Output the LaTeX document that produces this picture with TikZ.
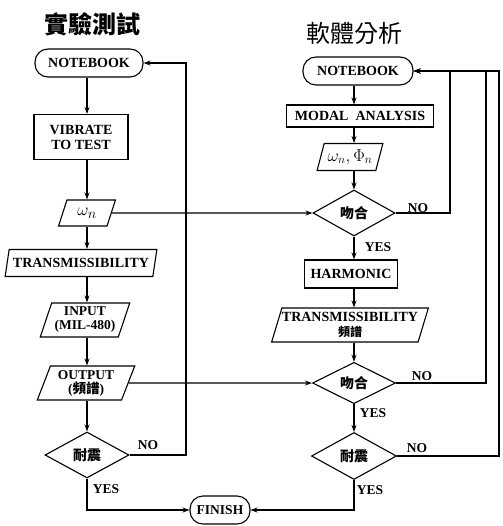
\documentclass[tikz,border=0pt]{standalone}
\usepackage{fontspec}
\setmainfont{Liberation Serif}
\newfontfamily\cjk{Noto Sans CJK TC}
\usetikzlibrary{shapes.geometric,arrows.meta}
\begin{document}
\begin{tikzpicture}[x=1pt,y=-1pt,
  line width=1.1pt,
  every node/.style={font=\bfseries\fontsize{14}{15}\selectfont, inner sep=1pt},
  arr/.style={-{Stealth[length=7pt,width=5pt]}},
  term/.style={draw, rounded corners=13pt, minimum height=28pt},
  proc/.style={draw, rectangle},
  para/.style={draw, trapezium, trapezium left angle=68, trapezium right angle=112, trapezium stretches=true, inner sep=0pt},
  dec/.style={draw, diamond, inner sep=0pt, font=\cjk\bfseries\fontsize{14}{15}\selectfont},
  lbl/.style={font=\bfseries\fontsize{13.5}{14}\selectfont},
  ttl/.style={font=\cjk\bfseries\fontsize{24}{26}\selectfont}]
\useasboundingbox (0,0) rectangle (502,526);
% titles
\node[ttl] (t1) at (92,24) {實驗測試};
\node[ttl, font=\cjk\fontsize{24}{26}\selectfont] (t2) at (354,33) {軟體分析};
% left column
\node[term, minimum width=108pt] (nb1) at (89,63) {NOTEBOOK};
\node[proc, minimum width=94pt, minimum height=45pt, align=center] (vib) at (81,137) {VIBRATE\\TO TEST};
\node[para, minimum width=57pt, minimum height=26pt, font=\fontsize{19}{20}\selectfont] (w1) at (87,213) {$\omega_n$};
\node[para, minimum width=152pt, minimum height=27pt, font=\bfseries\fontsize{14}{15}\selectfont] (tr1) at (81,263) {TRANSMISSIBILITY};
\node[para, minimum width=90pt, minimum height=34pt, align=center, font=\bfseries\fontsize{13.5}{14}\selectfont] (in1) at (85,320) {INPUT\\(MIL-480)};
\node[para, minimum width=98pt, minimum height=34pt, align=center, font=\bfseries\fontsize{13.5}{14}\selectfont] (out1) at (86,383) {OUTPUT\\({\cjk\bfseries 頻譜})};
\node[dec, minimum width=84pt, minimum height=46pt] (d1) at (87,455) {耐震};
\node[term, minimum width=60pt, font=\bfseries\fontsize{13.5}{14}\selectfont] (fin) at (220,510) {FINISH};
% right column
\node[term, minimum width=110pt] (nb2) at (358,71) {NOTEBOOK};
\node[proc, minimum width=147pt, minimum height=22pt] (modal) at (360,116) {MODAL\ \ ANALYSIS};
\node[para, minimum width=66pt, minimum height=27pt, font=\fontsize{17}{18}\selectfont] (wf) at (350,157) {$\omega_n,\Phi_n$};
\node[dec, minimum width=82pt, minimum height=46pt] (m1) at (354,213) {吻合};
\node[proc, minimum width=93pt, minimum height=28pt] (harm) at (351,274) {HARMONIC};
\node[para, minimum width=152pt, minimum height=34pt, align=center, font=\bfseries\fontsize{14}{15}\selectfont] (tr2) at (350,325) {TRANSMISSIBILITY\\{\cjk\bfseries\fontsize{12}{13}\selectfont 頻譜}};
\node[dec, minimum width=83pt, minimum height=40pt] (m2) at (354,383) {吻合};
\node[dec, minimum width=85pt, minimum height=47pt] (d2) at (354,456) {耐震};
% return line coordinates
\coordinate (l1) at (186,0);
\coordinate (r1) at (450,0);
\coordinate (r2) at (486,0);
\coordinate (r3) at (499,0);
% left column arrows
\draw[arr] (nb1.south -| d1) -- (vib.north -| d1);
\draw[arr] (vib.south -| d1) -- (w1.north -| d1);
\draw[arr] (w1.south -| d1) -- (tr1.north -| d1);
\draw[arr] (tr1.south -| d1) -- (in1.north -| d1);
\draw[arr] (in1.south -| d1) -- (out1.north -| d1);
\draw[arr] (out1.south -| d1) -- (d1.north);
\draw[arr] (d1.east) -| (l1 |- nb1.east) -- (nb1.east);
\draw[arr] (d1.south) |- (fin.west);
% right column arrows
\draw[arr] (nb2.south -| m1) -- (modal.north -| m1);
\draw[arr] (modal.south -| m1) -- (wf.north -| m1);
\draw[arr] (wf.south -| m1) -- (m1.north);
\draw[arr] (m1.south) -- (harm.north -| m1);
\draw[arr] (harm.south -| m1) -- (tr2.north -| m1);
\draw[arr] (tr2.south -| m1) -- (m2.north);
\draw[arr] (m2.south) -- (d2.north);
\draw[arr] (m1.east) -| (r1 |- nb2.east) -- (nb2.east);
\draw[arr] (m2.east) -| (r2 |- nb2.east) -- (nb2.east);
\draw[arr] (d2.east) -| (r3 |- nb2.east) -- (nb2.east);
\draw[arr] (d2.south) |- (fin.east);
% cross links
\draw[arr] (w1.east) -- (m1.west);
\draw[arr] (out1.east) -- (m2.west);
% labels
\node[lbl] (n1) at (148,445) {NO};
\node[lbl] (y1) at (106,489) {YES};
\node[lbl] (n2) at (418,208) {NO};
\node[lbl] (y2) at (378,247) {YES};
\node[lbl] (n3) at (422,376) {NO};
\node[lbl] (y3) at (373,413) {YES};
\node[lbl] (n4) at (417,448) {NO};
\node[lbl] (y4) at (370,490) {YES};
\end{tikzpicture}
\end{document}
